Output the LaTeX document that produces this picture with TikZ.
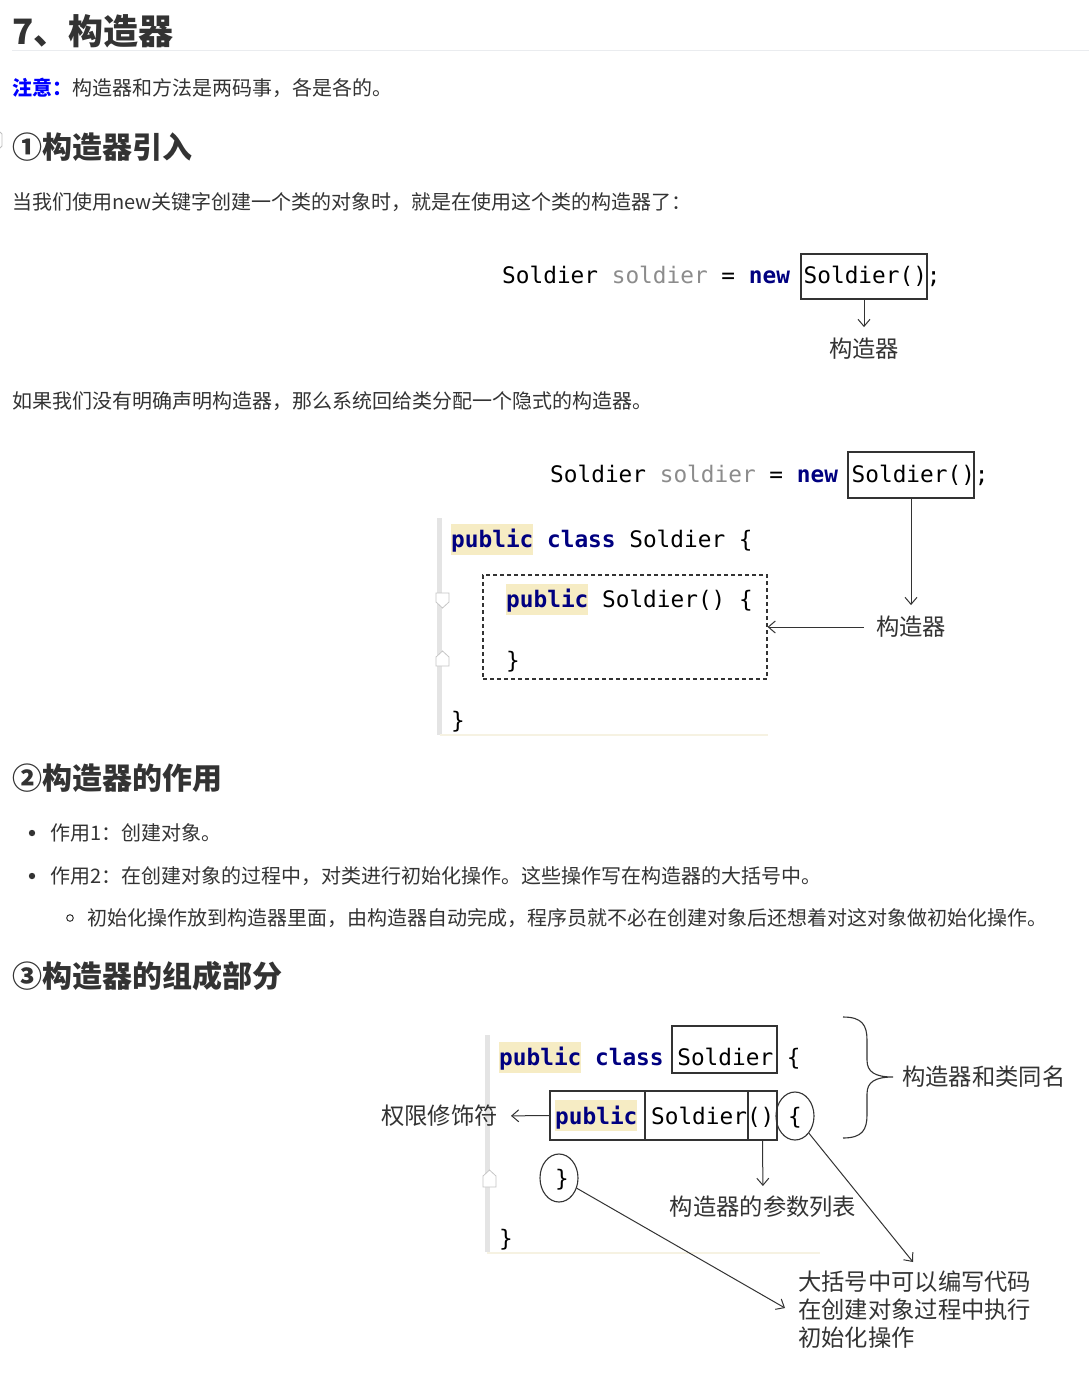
\documentclass[tikz,border=0pt]{standalone}
\usepackage{fontspec}
\setmainfont{Noto Sans CJK SC}
\newfontfamily\codefont{DejaVu Sans Mono}
\usetikzlibrary{arrows.meta,shapes.geometric}
\definecolor{txt}{HTML}{333333}
\definecolor{kw}{HTML}{000080}
\definecolor{varg}{HTML}{8C8C8C}
\definecolor{hl}{HTML}{F6ECC4}
\definecolor{gut}{HTML}{E4E4E4}
\definecolor{rulec}{HTML}{EAECEF}
\definecolor{linkblue}{HTML}{0000FF}
\definecolor{faint}{HTML}{F6F2E2}
\newcommand\kwd[1]{\textcolor{kw}{\bfseries #1}}
\tikzset{
 body/.style={anchor=west, inner sep=0pt, text=txt, font=\fontsize{20}{24}\selectfont},
 head/.style={anchor=west, inner sep=0pt, text=txt, font=\fontsize{30}{36}\selectfont\bfseries},
 code/.style={anchor=base west, inner sep=0pt, font=\codefont\fontsize{22.76}{27}\selectfont, text=black},
 lab/.style={inner sep=0pt, text=txt, font=\fontsize{23.3}{28}\selectfont},
 arr/.style={draw=txt, line width=1pt, -{Straight Barb[length=7pt,width=12pt]}},
 frame/.style={draw=txt, line width=1.1pt, inner sep=0pt},
 oval/.style={ellipse, draw=txt, line width=1.1pt, inner sep=0pt, minimum width=38pt, minimum height=48pt},
 dashframe/.style={draw=txt, line width=1.1pt, dash pattern=on 4pt off 3pt, inner sep=0pt},
 marker/.style={fill=white, draw=gray!45, line width=0.8pt},
}
\begin{document}
\begin{tikzpicture}[x=1pt,y=-1pt]
\fill[white] (0,0) rectangle (1089,1381);
\useasboundingbox (0,0) rectangle (1089,1381);

% headings and text
\node[head, font=\fontsize{35}{41}\selectfont\bfseries] (h0) at (12,31) {7、构造器};
\draw[rulec, line width=1pt] (12,51) -- (1089,51);
\node[body] (n1) at (12,88) {\textcolor{linkblue}{\bfseries 注意：}构造器和方法是两码事，各是各的。};
\draw[gray!50, line width=0.8pt] (0,132) -- (2,134) -- (2,146) -- (0,148);
\node[head] (h1) at (12,147) {①构造器引入};
\node[body] (p1) at (12,202) {当我们使用new关键字创建一个类的对象时，就是在使用这个类的构造器了：};

% figure 1
\node[code] (l1) at (502,283) {Soldier \textcolor{varg}{soldier} = \kwd{new} Soldier();};
\node[frame, minimum width=126pt, minimum height=45pt] (b1) at (864,276.5) {};
\node[lab] (k1) at (864,349) {构造器};
\draw[arr, shorten >=11pt] (b1.south) -- (k1.north);

\node[body] (p2) at (12,401) {如果我们没有明确声明构造器，那么系统回给类分配一个隐式的构造器。};

% figure 2
\node[code] (l2) at (550,482) {Soldier \textcolor{varg}{soldier} = \kwd{new} Soldier();};
\node[frame, minimum width=126pt, minimum height=46pt] (b2) at (911,475) {};
\fill[gut] (437,518) rectangle (442,735);
\draw[faint, line width=2pt] (440,735) -- (768,735);
\draw[marker] (436,593) -- (449,593) -- (449,602) -- (442.5,608) -- (436,602) -- cycle;
\draw[marker] (436,666) -- (449,666) -- (449,657) -- (442.5,651) -- (436,657) -- cycle;
\fill[hl] (451,524) rectangle (533,555);
\node[code] (c21) at (451,547) {\kwd{public} \kwd{class} Soldier \{};
\node[dashframe, minimum width=284pt, minimum height=104pt] (db) at (625,627) {};
\fill[hl] (506,584) rectangle (588,615);
\node[code] (c22) at (506,607) {\kwd{public} Soldier() \{};
\node[code] (c23) at (506,668) {\}};
\node[code] (c24) at (451,728) {\}};
\node[lab] (k2) at (911,627) {构造器};
\draw[arr, shorten >=11pt] (b2.south) -- (k2.north);
\draw[arr, shorten <=12pt] (k2.west) -- (db.east);

% section 2
\node[head] (h2) at (12,778) {②构造器的作用};
\fill[txt] (32,833) circle (3.2pt);
\node[body] (u1) at (50,833) {作用1：创建对象。};
\fill[txt] (32,876) circle (3.2pt);
\node[body] (u2) at (50,876) {作用2：在创建对象的过程中，对类进行初始化操作。这些操作写在构造器的大括号中。};
\draw[txt, line width=1pt] (70,918) circle (3.3pt);
\node[body] (u3) at (87,918) {初始化操作放到构造器里面，由构造器自动完成，程序员就不必在创建对象后还想着对这对象做初始化操作。};

% section 3
\node[head] (h3) at (12,976) {③构造器的组成部分};

\fill[gut] (485,1035) rectangle (490,1252);
\draw[faint, line width=2pt] (487,1253) -- (820,1253);
\draw[marker] (483,1187) -- (496,1187) -- (496,1176) -- (489.5,1170) -- (483,1176) -- cycle;

\fill[hl] (499,1042) rectangle (581,1073);
\node[code] (c31) at (499,1065) {\kwd{public} \kwd{class} Soldier \{};
\node[frame, minimum width=105pt, minimum height=47pt] (b3) at (724.5,1049.5) {};

\fill[hl] (555,1100) rectangle (637,1131);
\node[code] (c32) at (555,1124) {\kwd{public} Soldier() \{};
\node[frame, minimum width=95pt, minimum height=49pt] (bpub) at (597.5,1115.5) {};
\node[frame, minimum width=103pt, minimum height=49pt] (bsol) at (696.5,1115.5) {};
\node[frame, minimum width=29pt, minimum height=49pt] (bpar) at (762.5,1115.5) {};
\node[oval] (e1) at (795,1116) {};
\node[code] (c33) at (555,1186) {\}};
\node[oval] (e2) at (559,1178) {};
\node[code] (c34) at (499,1246) {\}};

\node[lab, anchor=east] (k3) at (498,1116) {权限修饰符};
\draw[arr, shorten >=13pt] (bpub.west) -- (k3.east);
\node[lab] (k4) at (763,1207) {构造器的参数列表};
\draw[arr, shorten >=10pt] (bpar.south) -- (k4.north);

\coordinate (bt) at (893,1077);
\draw[txt, line width=1.1pt] (843,1017) .. controls (862,1017) and (867,1025) .. (867,1040) -- (867,1060) .. controls (867,1072) and (875,1077) .. (bt) .. controls (875,1077) and (867,1082) .. (867,1094) -- (867,1115) .. controls (867,1130) and (862,1138) .. (843,1138);
\node[lab, anchor=west] (k5) at (902,1077) {构造器和类同名};

\node[lab, anchor=west, align=left] (k6) at (798,1310) {大括号中可以编写代码\\在创建对象过程中执行\\初始化操作};
\coordinate (t1) at (913,1262);
\coordinate (t2) at (785,1308);
\draw[arr] (e1) -- (t1);
\draw[arr] (e2) -- (t2);
\end{tikzpicture}
\end{document}
